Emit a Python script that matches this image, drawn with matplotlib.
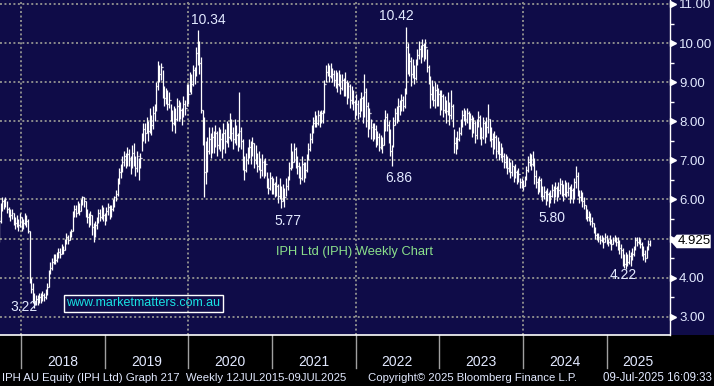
import matplotlib

matplotlib.use("Agg")

import matplotlib.dates as mdates
import matplotlib.pyplot as plt
import numpy as np
import pandas as pd
from matplotlib.collections import LineCollection
from matplotlib.patches import Polygon, Rectangle
from matplotlib.transforms import blended_transform_factory, offset_copy

plt.rcParams["font.family"] = ["Liberation Sans", "DejaVu Sans"]

# weekly bars, oldest first, last bar 09-Jul-2025
LAST_BAR = "2025-07-09"
CLOSES = [
    4.90, 5.45, 5.80, 5.95, 5.85, 6.00, 5.75, 5.70, 5.60, 5.65, 5.50, 5.40, 5.45, 5.35, 5.55, 5.30, 5.40, 5.55, 5.45, 5.20,
    3.95, 3.70, 3.50, 3.40, 3.45, 3.35, 3.50, 3.45, 3.55, 3.50, 3.60, 3.75,
    4.15, 4.25, 4.40, 4.50, 4.45, 4.55, 4.65, 4.60, 4.75, 4.70, 4.90, 5.05, 4.95, 5.10, 5.20,
    5.60, 5.75, 5.65, 5.85, 5.70, 5.90, 6.05, 5.95,
    5.70, 5.55, 5.45, 5.60, 5.30, 5.15, 5.35, 5.45,
    5.65, 5.55, 5.75, 5.60, 5.50, 5.70, 5.80, 5.65, 5.75, 5.90,
    6.05, 6.15, 6.45, 6.70, 6.80,
    6.95, 7.10, 6.90, 7.15, 7.05, 6.85, 7.20, 7.00, 6.80, 7.10, 6.75, 7.05,
    7.55, 7.80, 7.70, 7.95, 7.75, 8.10, 7.90, 8.20, 8.30,
    8.90, 9.35, 9.20, 9.40, 9.05,
    8.60, 8.75, 8.45, 8.55,
    8.10, 7.95, 8.25, 8.05, 8.40, 8.15, 8.30, 8.10, 8.45, 8.35,
    8.80, 8.70, 9.10, 8.95, 9.30, 9.20, 9.75,
    10.00, 9.50, 8.30,
    7.60, 6.70, 6.90,
    7.25, 7.55, 7.30, 7.60, 7.45, 7.70, 7.40, 7.65, 7.55, 7.35, 7.70, 7.50,
    7.80, 7.60, 7.95, 7.70, 7.55, 7.85, 7.65, 7.40, 7.75, 7.50,
    6.90, 6.75, 7.00, 7.20,
    7.35, 7.15, 7.45, 7.00, 7.20,
    6.85, 7.05, 6.75, 6.95, 6.70, 6.90,
    6.45, 6.30, 6.55, 6.25, 6.40, 6.20, 6.35,
    6.10, 6.30, 5.95, 6.25, 6.05, 6.35, 6.45,
    6.80, 7.15, 6.95, 7.30, 7.05, 6.85,
    6.70, 6.55, 6.90, 6.65, 6.75, 7.00,
    7.30, 7.55, 7.75, 7.95,
    8.05, 7.95, 8.15, 8.00, 8.20, 8.10,
    8.95,
    9.25, 9.40, 9.15, 9.35, 9.20, 9.05,
    9.15, 8.95, 9.20, 8.85, 9.05, 8.80,
    9.00, 8.70, 8.90, 8.55, 8.75, 8.50,
    8.30, 8.45, 8.20, 8.35,
    8.60, 8.15, 8.75, 8.40, 7.95, 8.20,
    7.85, 7.65, 7.80, 7.50, 7.60, 7.35, 7.55, 7.40,
    7.85, 8.10, 7.90, 7.70,
    7.25, 7.00,
    7.90, 8.20, 8.05, 8.40, 8.30, 8.55, 8.40, 8.70,
    9.90, 9.45,
    9.55, 9.20, 9.40, 9.10, 9.45,
    9.70, 9.85, 9.65, 9.95, 9.80, 9.90,
    9.40, 9.05, 8.70, 8.85, 8.55,
    8.80, 8.55, 8.70, 8.40, 8.65, 8.30, 8.50, 8.25, 8.45, 8.15, 8.40, 8.05,
    7.45, 7.30, 7.55, 7.70,
    7.90, 8.15, 8.25, 8.05, 8.20, 7.95,
    8.05, 7.80, 7.95, 7.65, 7.90, 8.10, 7.75, 7.60, 7.95, 7.70, 7.85, 8.05, 7.70,
    7.55, 7.35, 7.60, 7.25, 7.45, 7.15, 7.30, 7.10,
    6.95, 7.05, 6.80, 6.90, 6.70, 6.85, 6.60, 6.70, 6.55, 6.65,
    6.45, 6.40, 6.35, 6.50,
    6.75, 6.95, 7.05, 6.90, 7.15,
    6.60, 6.45, 6.30, 6.50, 6.25, 6.10, 6.20, 6.00, 6.15, 5.95, 6.10, 6.25, 6.05, 6.30, 6.10,
    6.25, 6.40, 6.30, 6.15, 6.35, 6.20, 6.30, 6.10, 6.25, 6.05,
    6.45, 6.60, 6.20,
    6.05, 6.15, 5.95, 5.85,
    5.70, 5.55, 5.60, 5.45, 5.40,
    5.25, 5.10, 5.00,
    5.05, 4.95, 5.00, 4.90, 5.05, 4.95, 4.90, 5.00, 4.85, 4.95, 5.05, 4.90,
    4.85, 4.75, 4.70,
    4.45, 4.35, 4.50, 4.40, 4.55, 4.45, 4.60, 4.70,
    4.95, 4.90, 5.00, 4.85,
    4.70, 4.60, 4.50, 4.70, 4.85,
    4.925,
]
HIGHS = [
    5.00, 5.55, 5.90, 6.05, 6.00, 6.05, 5.95, 5.80, 5.75, 5.75, 5.65, 5.55, 5.60, 5.50, 5.65, 5.55, 5.50, 5.65, 5.60, 5.50,
    5.20, 4.00, 3.85, 3.60, 3.55, 3.55, 3.60, 3.60, 3.65, 3.60, 3.70, 3.85,
    4.20, 4.40, 4.50, 4.60, 4.60, 4.65, 4.75, 4.75, 4.85, 4.80, 5.00, 5.15, 5.10, 5.20, 5.25,
    5.70, 5.85, 5.85, 5.95, 5.90, 6.00, 6.10, 6.05,
    5.95, 5.75, 5.65, 5.70, 5.60, 5.40, 5.45, 5.55,
    5.75, 5.75, 5.85, 5.80, 5.65, 5.80, 5.90, 5.85, 5.85, 6.00,
    6.10, 6.25, 6.55, 6.80, 6.90,
    7.10, 7.25, 7.20, 7.35, 7.30, 7.10, 7.40, 7.45, 7.10, 7.25, 7.05, 7.20,
    7.70, 7.95, 7.95, 8.10, 8.00, 8.35, 8.15, 8.40, 8.45,
    9.00, 9.55, 9.45, 9.50, 9.30,
    8.90, 8.85, 8.80, 8.75,
    8.45, 8.30, 8.40, 8.35, 8.60, 8.55, 8.50, 8.35, 8.65, 8.55,
    8.95, 8.95, 9.25, 9.20, 9.45, 9.40, 9.90,
    10.34, 10.05, 9.65,
    8.30, 8.10, 7.50,
    7.60, 7.85, 7.70, 7.85, 7.75, 7.90, 7.75, 7.85, 7.80, 7.70, 7.95, 7.80,
    8.00, 7.95, 8.20, 8.05, 7.85, 8.05, 7.90, 7.70, 8.75, 7.85,
    7.55, 7.10, 7.20, 7.35,
    7.55, 7.50, 7.60, 7.45, 7.40,
    7.20, 7.25, 7.05, 7.15, 7.00, 7.05,
    6.70, 6.55, 6.70, 6.60, 6.55, 6.45, 6.60,
    6.40, 6.55, 6.35, 6.40, 6.30, 6.55, 6.60,
    6.95, 7.45, 7.25, 7.45, 7.35, 7.10,
    6.95, 6.85, 7.10, 6.95, 6.95, 7.15,
    7.45, 7.70, 7.90, 8.10,
    8.25, 8.15, 8.30, 8.25, 8.30, 8.30,
    9.05,
    9.45, 9.50, 9.45, 9.50, 9.35, 9.30,
    9.30, 9.25, 9.30, 9.20, 9.20, 9.10,
    9.25, 9.05, 9.00, 8.95, 8.90, 8.80,
    8.55, 8.70, 8.55, 8.60,
    8.75, 8.65, 9.20, 8.85, 8.50, 8.35,
    8.05, 7.95, 7.95, 7.90, 7.75, 7.70, 7.65, 7.60,
    8.05, 8.30, 8.20, 8.00,
    7.80, 7.40,
    8.10, 8.35, 8.40, 8.60, 8.55, 8.70, 8.65, 8.85,
    10.42, 10.00,
    9.75, 9.65, 9.60, 9.45, 9.60,
    9.85, 10.05, 9.95, 10.10, 10.00, 10.10,
    9.85, 9.45, 9.15, 9.05, 8.90,
    9.00, 8.95, 8.85, 8.80, 8.80, 8.70, 8.65, 8.55, 8.75, 8.50, 8.80, 8.45,
    7.80, 7.60, 7.75, 7.85,
    8.05, 8.30, 8.35, 8.30, 8.35, 8.25,
    8.20, 8.15, 8.10, 8.00, 8.05, 8.25, 8.15, 7.85, 8.10, 8.00, 8.10, 8.45, 8.05,
    7.85, 7.70, 7.75, 7.65, 7.60, 7.50, 7.45, 7.35,
    7.20, 7.15, 7.10, 7.05, 6.95, 7.00, 6.85, 6.90, 6.75, 6.80,
    6.55, 6.55, 6.50, 6.60,
    6.85, 7.10, 7.20, 7.15, 7.25,
    7.05, 6.75, 6.55, 6.60, 6.55, 6.35, 6.35, 6.25, 6.30, 6.20, 6.25, 6.40, 6.35, 6.45, 6.35,
    6.45, 6.55, 6.50, 6.40, 6.50, 6.45, 6.45, 6.35, 6.40, 6.30,
    6.55, 6.85, 6.70,
    6.25, 6.25, 6.20, 6.05,
    5.85, 5.75, 5.70, 5.65, 5.55,
    5.40, 5.30, 5.15,
    5.15, 5.10, 5.10, 5.05, 5.15, 5.10, 5.00, 5.10, 5.00, 5.05, 5.10, 5.05,
    5.05, 4.95, 4.85,
    4.75, 4.60, 4.65, 4.60, 4.70, 4.65, 4.75, 4.80,
    5.05, 5.05, 5.05, 5.00,
    4.90, 4.80, 4.70, 4.80, 4.95,
    4.96,
]
LOWS = [
    4.55, 4.90, 5.40, 5.70, 5.75, 5.80, 5.65, 5.55, 5.45, 5.50, 5.35, 5.25, 5.30, 5.20, 5.30, 5.20, 5.25, 5.35, 5.30, 5.15,
    3.85, 3.60, 3.35, 3.22, 3.30, 3.30, 3.35, 3.35, 3.40, 3.40, 3.45, 3.55,
    3.75, 4.10, 4.20, 4.35, 4.35, 4.40, 4.50, 4.50, 4.60, 4.60, 4.70, 4.85, 4.85, 4.95, 5.05,
    5.20, 5.55, 5.55, 5.65, 5.60, 5.70, 5.85, 5.80,
    5.55, 5.40, 5.30, 5.35, 5.10, 4.90, 5.05, 5.25,
    5.40, 5.45, 5.50, 5.45, 5.35, 5.45, 5.60, 5.50, 5.55, 5.70,
    5.80, 5.95, 6.10, 6.40, 6.55,
    6.70, 6.85, 6.80, 6.85, 6.85, 6.65, 6.80, 6.85, 6.60, 6.70, 6.50, 6.80,
    7.25, 7.50, 7.45, 7.70, 7.50, 7.70, 7.65, 7.80, 8.00,
    8.25, 8.80, 9.00, 9.05, 8.60,
    8.40, 8.45, 8.30, 8.35,
    8.00, 7.75, 7.90, 7.70, 8.00, 8.00, 8.05, 7.90, 8.10, 8.15,
    8.40, 8.45, 8.75, 8.70, 8.90, 8.95, 9.15,
    9.45, 9.20, 8.20,
    7.40, 6.05, 6.40,
    6.70, 7.15, 7.05, 7.20, 7.20, 7.35, 7.10, 7.30, 7.25, 7.05, 7.30, 7.20,
    7.45, 7.35, 7.55, 7.50, 7.30, 7.45, 7.40, 7.25, 7.35, 7.30,
    6.75, 6.50, 6.70, 6.90,
    7.05, 6.90, 7.10, 6.80, 6.90,
    6.70, 6.75, 6.55, 6.60, 6.55, 6.60,
    6.30, 6.15, 6.25, 6.15, 6.15, 6.05, 6.10,
    5.90, 6.00, 5.77, 5.95, 5.80, 6.10, 6.25,
    6.50, 6.75, 6.80, 6.95, 6.80, 6.65,
    6.55, 6.40, 6.50, 6.45, 6.55, 6.70,
    7.00, 7.25, 7.45, 7.70,
    7.85, 7.85, 7.90, 7.85, 7.95, 7.95,
    8.20,
    9.00, 9.15, 9.00, 9.10, 9.00, 8.90,
    8.85, 8.75, 8.90, 8.70, 8.80, 8.65,
    8.65, 8.45, 8.60, 8.35, 8.45, 8.30,
    8.05, 8.15, 8.05, 8.10,
    8.25, 7.95, 8.10, 7.85, 7.60, 7.80,
    7.55, 7.50, 7.55, 7.35, 7.40, 7.25, 7.30, 7.20,
    7.40, 7.75, 7.75, 7.45,
    7.10, 6.86,
    7.35, 7.90, 7.95, 8.00, 8.15, 8.25, 8.25, 8.35,
    8.70, 9.20,
    9.15, 8.90, 9.10, 8.95, 9.05,
    9.45, 9.60, 9.50, 9.65, 9.55, 9.60,
    9.25, 8.95, 8.35, 8.55, 8.40,
    8.35, 8.40, 8.40, 8.15, 8.30, 8.10, 8.20, 7.95, 8.15, 7.90, 8.05, 7.85,
    7.20, 7.15, 7.30, 7.50,
    7.65, 7.85, 8.00, 7.90, 7.95, 7.80,
    7.80, 7.60, 7.70, 7.45, 7.55, 7.85, 7.55, 7.40, 7.55, 7.45, 7.60, 7.70, 7.50,
    7.35, 7.15, 7.30, 7.05, 7.15, 7.00, 7.05, 6.95,
    6.80, 6.80, 6.65, 6.70, 6.55, 6.60, 6.45, 6.55, 6.40, 6.45,
    6.30, 6.30, 6.25, 6.35,
    6.50, 6.70, 6.85, 6.75, 6.85,
    6.40, 6.30, 6.15, 6.20, 6.05, 5.95, 6.00, 5.85, 5.95, 5.80, 5.90, 6.05, 5.90, 6.05, 5.95,
    6.05, 6.15, 6.10, 5.95, 6.10, 6.05, 6.10, 5.90, 6.00, 5.90,
    6.00, 6.30, 6.10,
    5.90, 5.95, 5.80, 5.75,
    5.50, 5.45, 5.45, 5.35, 5.30,
    5.15, 5.00, 4.95,
    4.90, 4.85, 4.90, 4.75, 4.90, 4.85, 4.80, 4.85, 4.70, 4.85, 4.90, 4.80,
    4.70, 4.60, 4.50,
    4.30, 4.25, 4.22, 4.30, 4.35, 4.30, 4.45, 4.55,
    4.70, 4.80, 4.85, 4.75,
    4.55, 4.45, 4.40, 4.50, 4.70,
    4.80,
]
LAST_PRICE = 4.925

PRICE_TICKS = [3, 4, 5, 6, 7, 8, 9, 10, 11]
MINOR_TICKS = [3.5, 4.5, 5.5, 6.5, 7.5, 8.5, 9.5, 10.5]
YEARS = [2018, 2019, 2020, 2021, 2022, 2023, 2024, 2025]
GRID_YEARS = [2018, 2020, 2022, 2024]

EXTREME_LABELS = ["10.34", "10.42", "6.86", "5.77", "5.80", "4.22", "3.22"]
EXTREME_TEXT_DATES = ["2020-03-28", "2022-06-29", "2022-07-10", "2021-03-12",
                      "2024-05-09", "2025-03-15", "2018-01-14"]
EXTREME_TEXT_PRICES = [10.59, 10.69, 6.55, 5.45, 5.53, 4.07, 3.26]

NAVY = "#0f0c48"
TEXT = "#e2e9ff"
GRID = "#8c8c8c"

FIG_W, FIG_H = 714, 386
PLOT_W, PLOT_H = 669.7, 335


def draw_bars(ax, dates):
    x = mdates.date2num(dates)
    closes = np.array(CLOSES)
    opens = np.r_[closes[0], closes[:-1]]
    ranges = [[(xi, lo), (xi, hi)] for xi, lo, hi in zip(x, LOWS, HIGHS)]
    open_ticks = [[(xi - 2.5, o), (xi, o)] for xi, o in zip(x, opens)]
    close_ticks = [[(xi, c), (xi + 2.5, c)] for xi, c in zip(x, closes)]
    ax.add_collection(LineCollection(ranges + open_ticks + close_ticks,
                                     colors="white", linewidths=0.9, zorder=3))


def build_figure():
    fig = plt.figure(figsize=(FIG_W / 100, FIG_H / 100), dpi=100, facecolor=NAVY)
    strip_h = (FIG_H - PLOT_H) / FIG_H
    fig.patches.append(Rectangle((0, 0), 1, strip_h, transform=fig.transFigure,
                                 facecolor="black", edgecolor="none", zorder=-1))

    ax = fig.add_axes([0, strip_h, PLOT_W / FIG_W, PLOT_H / FIG_H], facecolor=NAVY)
    dates = pd.date_range(end=LAST_BAR, periods=len(CLOSES), freq="7D")
    draw_bars(ax, dates)

    x_left = mdates.date2num(pd.Timestamp("2017-10-01"))
    x_right = mdates.date2num(pd.Timestamp("2025-10-04"))
    ax.set_xlim(x_left, x_right)
    ax.set_ylim(2.532, 11.102)

    for side in ("left", "top"):
        ax.spines[side].set_visible(False)
    ax.spines["right"].set_color("white")
    ax.spines["right"].set_linewidth(1.0)
    ax.spines["bottom"].set_color("white")
    ax.spines["bottom"].set_linewidth(1.2)

    ax.set_xticks([])
    ax.yaxis.tick_right()
    ax.set_yticks(PRICE_TICKS)
    # the 5.00 label sits under the last-price flag in the original
    ax.set_yticklabels(["" if v == 5 else f"{v:.2f}" for v in PRICE_TICKS])
    ax.set_yticks(MINOR_TICKS, minor=True)
    ax.tick_params(axis="y", which="major", length=0, pad=6.7,
                   labelcolor=TEXT, labelsize=9.5)
    ax.tick_params(axis="y", which="minor", length=2.9, width=1.0,
                   color="white", direction="out")
    ax.grid(axis="y", which="major", color=GRID, linestyle=(0, (1, 1.3)),
            linewidth=1.4, zorder=1)
    for yr in GRID_YEARS:
        ax.axvline(mdates.date2num(pd.Timestamp(f"{yr}-01-01")), color=GRID,
                   linestyle=(0, (1, 1.3)), linewidth=1.4, zorder=1)

    # triangle markers at the major price ticks
    arrow_trans = offset_copy(blended_transform_factory(ax.transAxes, ax.transData),
                              fig=fig, x=3.5, y=0, units="dots")
    ax.plot(np.ones(len(PRICE_TICKS)), PRICE_TICKS, transform=arrow_trans,
            linestyle="none", marker=">", markersize=5, color="white", clip_on=False)

    # last price flag
    dx = 1 / PLOT_W
    dy = 6.8 / (PLOT_H / (11.102 - 2.532))
    flag_trans = blended_transform_factory(ax.transAxes, ax.transData)
    ax.add_patch(Polygon(
        [(1 + dx, LAST_PRICE), (1 + 7 * dx, LAST_PRICE + dy), (1 + 41 * dx, LAST_PRICE + dy),
         (1 + 41 * dx, LAST_PRICE - dy), (1 + 7 * dx, LAST_PRICE - dy)],
        closed=True, transform=flag_trans, facecolor="white", edgecolor="none",
        clip_on=False, zorder=5))
    ax.text(1 + 24.5 * dx, LAST_PRICE, f"{LAST_PRICE:.3f}", transform=flag_trans,
            ha="center", va="center", color="black", fontsize=9.5, clip_on=False, zorder=6)

    for label, d, y in zip(EXTREME_LABELS, EXTREME_TEXT_DATES, EXTREME_TEXT_PRICES):
        ax.text(mdates.date2num(pd.Timestamp(d)), y, label, ha="center", va="center",
                color=TEXT, fontsize=10, zorder=4)

    # year strip under the plot
    strip_trans = blended_transform_factory(ax.transData, ax.transAxes)
    for yr in YEARS:
        start = mdates.date2num(pd.Timestamp(f"{yr}-01-01"))
        end = min(mdates.date2num(pd.Timestamp(f"{yr + 1}-01-01")), x_right)
        ax.plot([start, start], [0, -33 / PLOT_H], transform=strip_trans,
                color="#a0a0a0", linewidth=1.0, clip_on=False)
        ax.text((start + end) / 2, -26.5 / PLOT_H, str(yr), transform=strip_trans,
                ha="center", va="center", color=TEXT, fontsize=10, clip_on=False)

    fig.text(355 / FIG_W, 1 - 252 / FIG_H, "IPH Ltd (IPH) Weekly Chart", ha="center",
             va="center", color="#8be08b", fontsize=9.3)
    fig.text(143.5 / FIG_W, 1 - 303.5 / FIG_H, "www.marketmatters.com.au", ha="center",
             va="center", color="#19e3e3", fontsize=9.0,
             bbox=dict(boxstyle="square,pad=0.2", facecolor="none", edgecolor="white",
                       linewidth=1.0))

    footer_y = 1 - 378 / FIG_H
    fig.text(2 / FIG_W, footer_y, "IPH AU Equity (IPH Ltd) Graph 217  Weekly 12JUL2015-09JUL2025",
             ha="left", va="center", color=TEXT, fontsize=8.2)
    fig.text(368 / FIG_W, footer_y, "Copyright\u00a9 2025 Bloomberg Finance L.P.",
             ha="left", va="center", color=TEXT, fontsize=8.2)
    fig.text(712 / FIG_W, footer_y, "09-Jul-2025 16:09:33",
             ha="right", va="center", color=TEXT, fontsize=8.3)
    return fig


def main():
    fig = build_figure()
    fig.savefig("out.png", dpi=100, facecolor=fig.get_facecolor())
    plt.close(fig)


if __name__ == "__main__":
    main()
